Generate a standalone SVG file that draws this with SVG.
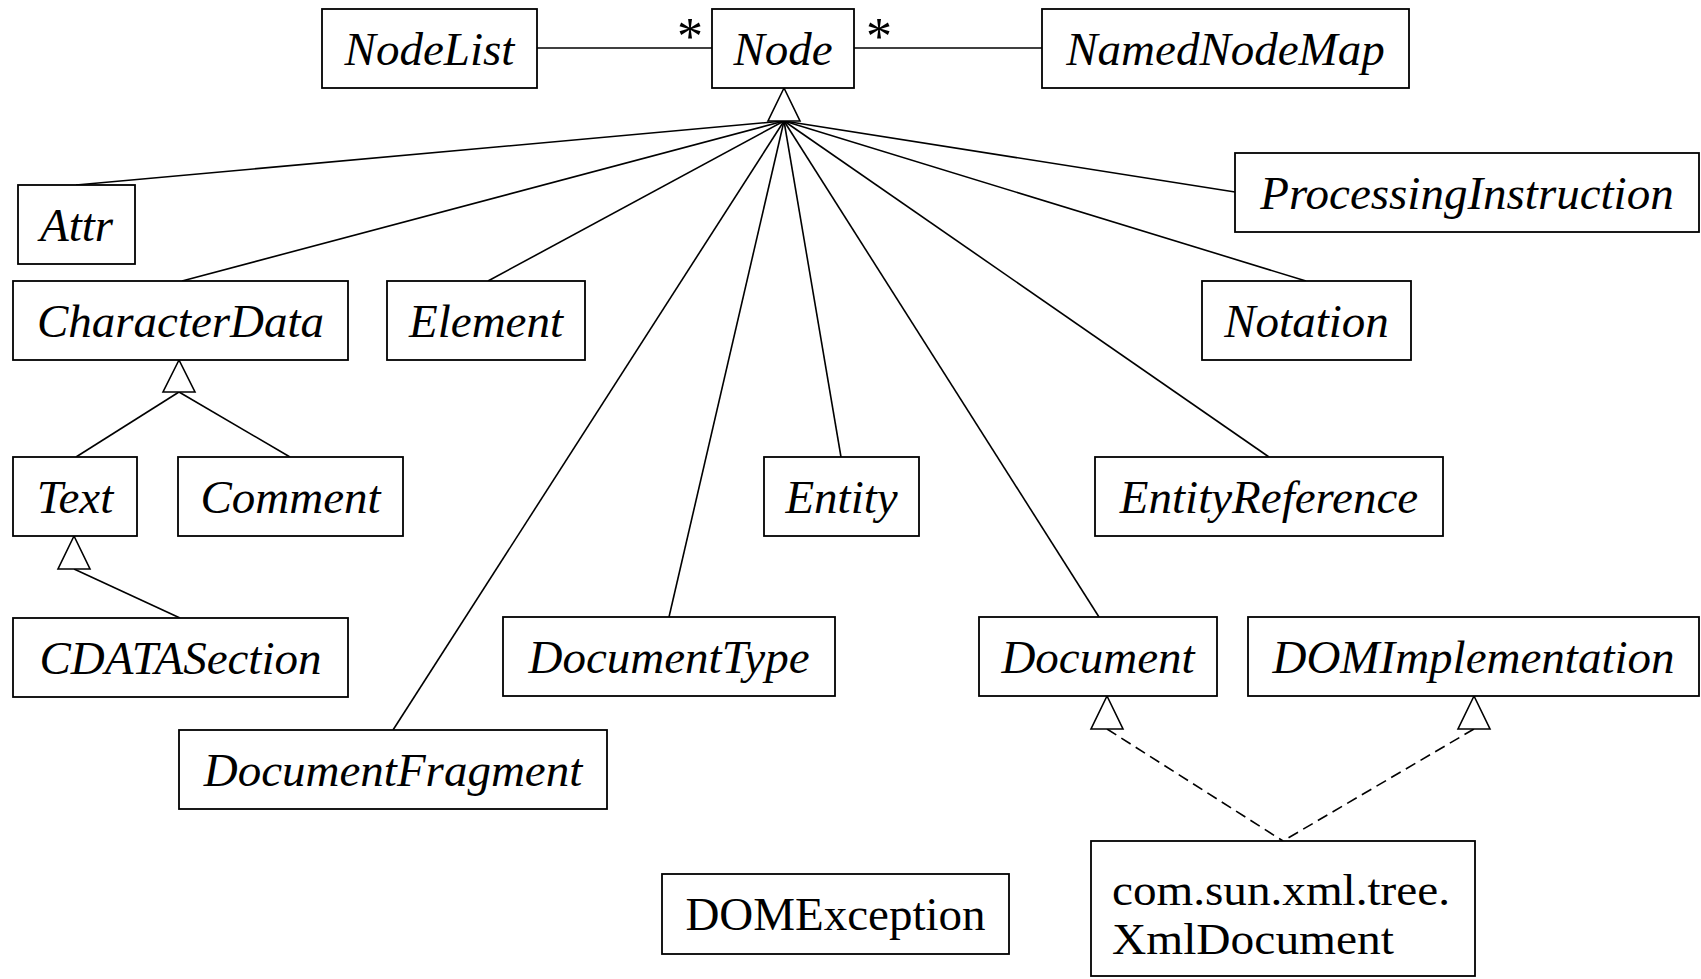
<svg xmlns="http://www.w3.org/2000/svg" width="1701" height="979" viewBox="0 0 1701 979">
<style>
.box{fill:#fff;stroke:#000;stroke-width:1.8}
.lbl{font-family:"Liberation Serif","Times New Roman",serif;font-style:italic;font-size:47px;fill:#000;text-anchor:middle}
.up{font-family:"Liberation Serif","Times New Roman",serif;font-size:47px;fill:#000}
.up2{font-family:"Liberation Serif","Times New Roman",serif;font-size:44px;fill:#000}
.ln{stroke:#000;stroke-width:1.6;fill:none}
.dash{stroke:#000;stroke-width:1.6;fill:none;stroke-dasharray:11,6}
.tri{fill:#fff;stroke:#000;stroke-width:1.6}
.star{font-family:"Liberation Serif","Times New Roman",serif;font-size:52px;fill:#000;text-anchor:middle}
</style>
<rect width="1701" height="979" fill="#fff"/>
<g id="connectors">
<line class="ln" x1="537" y1="48" x2="712" y2="48"/>
<line class="ln" x1="854" y1="48" x2="1042" y2="48"/>
<text class="star" x="690" y="54">*</text>
<text class="star" x="879" y="54">*</text>
<line class="ln" x1="784" y1="121" x2="76" y2="185"/>
<line class="ln" x1="784" y1="121" x2="1235" y2="192"/>
<line class="ln" x1="784" y1="121" x2="182" y2="281"/>
<line class="ln" x1="784" y1="121" x2="488" y2="281"/>
<line class="ln" x1="784" y1="121" x2="1306" y2="281"/>
<line class="ln" x1="784" y1="121" x2="393" y2="730"/>
<line class="ln" x1="784" y1="121" x2="669" y2="617"/>
<line class="ln" x1="784" y1="121" x2="841" y2="457"/>
<line class="ln" x1="784" y1="121" x2="1269" y2="457"/>
<line class="ln" x1="784" y1="121" x2="1099" y2="617"/>
<polygon class="tri" points="784,88 768,121 800,121"/>
<line class="ln" x1="179" y1="392" x2="76" y2="457"/>
<line class="ln" x1="179" y1="392" x2="290" y2="457"/>
<polygon class="tri" points="179,360 163,392 195,392"/>
<line class="ln" x1="74" y1="569" x2="180" y2="618"/>
<polygon class="tri" points="74,536 58,569 90,569"/>
<line class="dash" x1="1107" y1="729" x2="1283" y2="841"/>
<line class="dash" x1="1474" y1="729" x2="1283" y2="841"/>
<polygon class="tri" points="1107,696 1091,729 1123,729"/>
<polygon class="tri" points="1474,696 1458,729 1490,729"/>
</g>
<g id="NodeList"><rect class="box" x="322" y="9" width="215" height="79"/><text class="lbl" x="429.5" y="65">NodeList</text></g>
<g id="Node"><rect class="box" x="712" y="9" width="142" height="79"/><text class="lbl" x="783" y="65">Node</text></g>
<g id="NamedNodeMap"><rect class="box" x="1042" y="9" width="367" height="79"/><text class="lbl" x="1225.5" y="65">NamedNodeMap</text></g>
<g id="Attr"><rect class="box" x="18" y="185" width="117" height="79"/><text class="lbl" x="76.5" y="241">Attr</text></g>
<g id="ProcessingInstruction"><rect class="box" x="1235" y="153" width="464" height="79"/><text class="lbl" x="1467" y="209">ProcessingInstruction</text></g>
<g id="CharacterData"><rect class="box" x="13" y="281" width="335" height="79"/><text class="lbl" x="180.5" y="337">CharacterData</text></g>
<g id="Element"><rect class="box" x="387" y="281" width="198" height="79"/><text class="lbl" x="486" y="337">Element</text></g>
<g id="Notation"><rect class="box" x="1202" y="281" width="209" height="79"/><text class="lbl" x="1306.5" y="337">Notation</text></g>
<g id="Text"><rect class="box" x="13" y="457" width="124" height="79"/><text class="lbl" x="75" y="513">Text</text></g>
<g id="Comment"><rect class="box" x="178" y="457" width="225" height="79"/><text class="lbl" x="290.5" y="513">Comment</text></g>
<g id="Entity"><rect class="box" x="764" y="457" width="155" height="79"/><text class="lbl" x="841.5" y="513">Entity</text></g>
<g id="EntityReference"><rect class="box" x="1095" y="457" width="348" height="79"/><text class="lbl" x="1269" y="513">EntityReference</text></g>
<g id="CDATASection"><rect class="box" x="13" y="618" width="335" height="79"/><text class="lbl" x="180.5" y="674">CDATASection</text></g>
<g id="DocumentType"><rect class="box" x="503" y="617" width="332" height="79"/><text class="lbl" x="669" y="673">DocumentType</text></g>
<g id="Document"><rect class="box" x="979" y="617" width="238" height="79"/><text class="lbl" x="1098" y="673">Document</text></g>
<g id="DOMImplementation"><rect class="box" x="1248" y="617" width="451" height="79"/><text class="lbl" x="1473.5" y="673">DOMImplementation</text></g>
<g id="DocumentFragment"><rect class="box" x="179" y="730" width="428" height="79"/><text class="lbl" x="393" y="786">DocumentFragment</text></g>
<g id="DOMException"><rect class="box" x="662" y="874" width="347" height="80"/><text class="up" x="835.5" y="930" text-anchor="middle">DOMException</text></g>
<g id="XmlDocument"><rect class="box" x="1091" y="841" width="384" height="135"/><text class="up2" x="1112" y="905" textLength="338" lengthAdjust="spacingAndGlyphs">com.sun.xml.tree.</text><text class="up2" x="1112" y="954" textLength="282" lengthAdjust="spacingAndGlyphs">XmlDocument</text></g>
</svg>
